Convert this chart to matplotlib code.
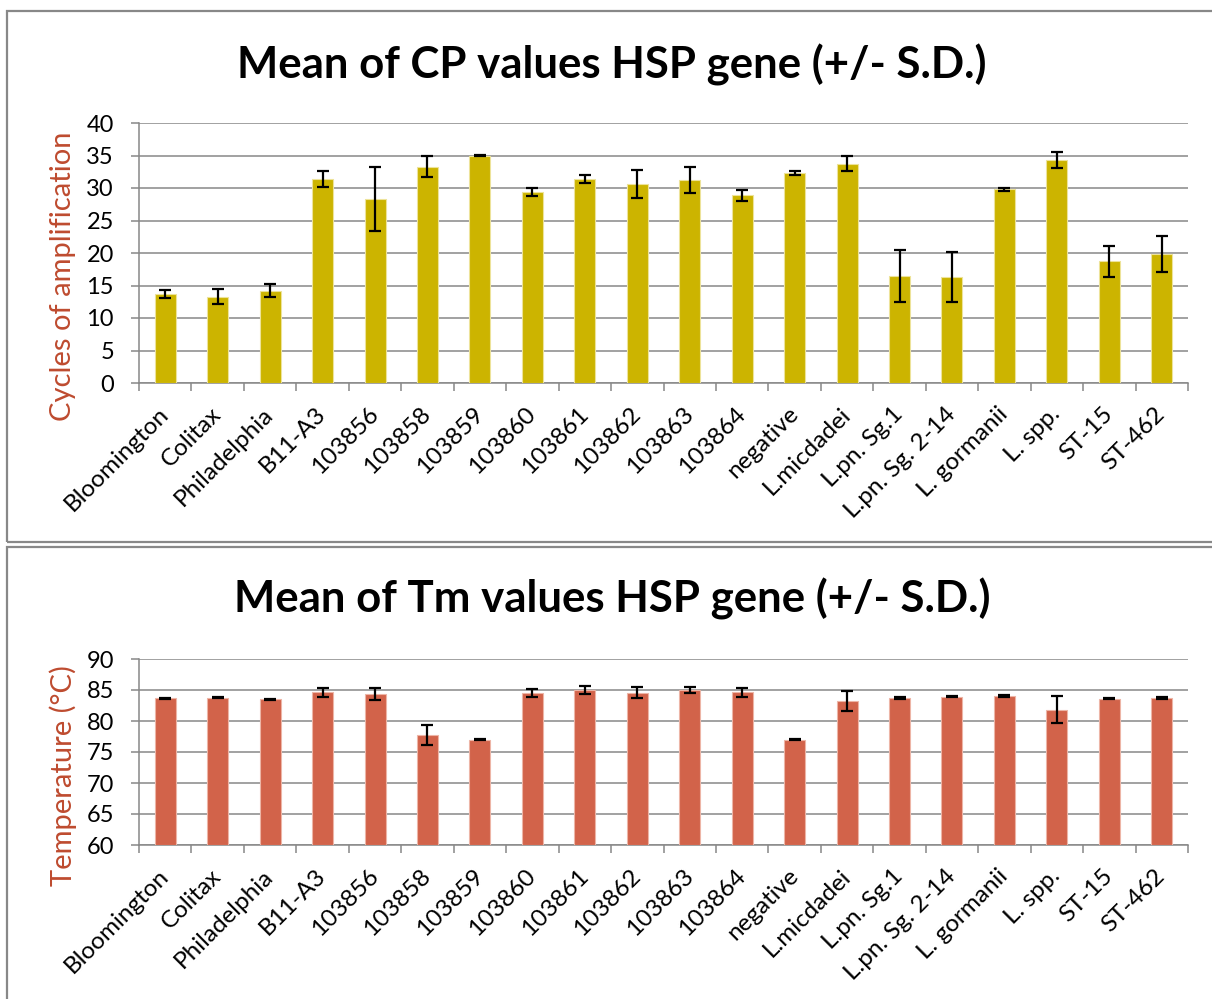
import matplotlib.pyplot as plt
from matplotlib.patches import Rectangle
import numpy as np

plt.rcParams['font.family'] = ['Lato', 'DejaVu Sans']

# strains on the x axis (same for both charts)
strains = ['Bloomington', 'Colitax', 'Philadelphia', 'B11-A3', '103856', '103858',
           '103859', '103860', '103861', '103862', '103863', '103864', 'negative',
           'L.micdadei', 'L.pn. Sg.1', 'L.pn. Sg. 2-14', 'L. gormanii', 'L. spp.',
           'ST-15', 'ST-462']

# crossing point values (cycles) and their S.D.
cp_mean = [13.7, 13.3, 14.2, 31.4, 28.3, 33.3, 35.0, 29.4, 31.4, 30.6,
           31.2, 28.9, 32.3, 33.7, 16.4, 16.3, 29.8, 34.3, 18.7, 19.9]
cp_sd = [0.65, 1.15, 1.0, 1.2, 4.9, 1.55, 0.05, 0.65, 0.65, 2.2,
         2.0, 0.85, 0.33, 1.15, 4.0, 3.9, 0.2, 1.25, 2.35, 2.75]

# melting temperature values and their S.D.
tm_mean = [83.7, 83.75, 83.5, 84.6, 84.4, 77.8, 77.0, 84.55, 85.0, 84.55,
           85.0, 84.65, 77.0, 83.25, 83.75, 83.9, 84.1, 81.8, 83.6, 83.7]
tm_sd = [0.08, 0.08, 0.08, 0.78, 0.95, 1.6, 0.05, 0.65, 0.57, 0.9,
         0.43, 0.75, 0.05, 1.6, 0.2, 0.08, 0.15, 2.2, 0.05, 0.12]

grid_col = '#888888'
lab_col = '#BE4B2F'

fig = plt.figure(figsize=(12.12, 9.99), dpi=100)

# panel frames
fig.patches.append(Rectangle((7 / 1212, 1 - 542 / 999), 1.0, 531 / 999, transform=fig.transFigure,
                             fill=False, edgecolor=grid_col, linewidth=1.6, figure=fig))
fig.patches.append(Rectangle((7 / 1212, -0.1), 1.0, 0.1 + 1 - 547 / 999, transform=fig.transFigure,
                             fill=False, edgecolor=grid_col, linewidth=1.6, figure=fig))


def bar_chart(ax, means, sds, colour, edge, ymin, ymax, step):
    x = np.arange(len(strains))
    ax.bar(x, np.array(means) - ymin, bottom=ymin, width=0.4, color=colour,
           edgecolor=edge, linewidth=0.8, zorder=3)
    ax.errorbar(x, means, yerr=sds, fmt='none', ecolor='black', elinewidth=1.6,
                capsize=4.5, capthick=1.6, zorder=4)
    ax.set_xlim(-0.5, len(strains) - 0.5)
    ax.set_ylim(ymin, ymax)
    ax.set_yticks(np.arange(ymin, ymax + 1, step))
    ax.yaxis.grid(True, color=grid_col, linewidth=1.1, zorder=0)
    ax.set_axisbelow(True)
    for s in ['top', 'right']:
        ax.spines[s].set_visible(False)
    for s in ['left', 'bottom']:
        ax.spines[s].set_color(grid_col)
        ax.spines[s].set_linewidth(1.1)
    ax.set_xticks(x)
    ax.set_xticklabels(strains, rotation=45, ha='right', va='center',
                       rotation_mode='anchor', fontsize=17.5)
    ax.set_xticks(np.arange(-0.5, len(strains)), minor=True)
    ax.tick_params(axis='x', which='major', length=0, pad=20)
    ax.tick_params(axis='x', which='minor', length=6, color=grid_col, width=1.1)
    ax.tick_params(axis='y', length=6, color=grid_col, width=1.1, labelsize=17, pad=12)


ax1 = fig.add_axes([139 / 1212, 1 - 383 / 999, 1049 / 1212, 260 / 999])
bar_chart(ax1, cp_mean, cp_sd, '#CCB400', '#EDE39A', 0, 40, 5)

ax2 = fig.add_axes([139 / 1212, 1 - 845 / 999, 1049 / 1212, 186 / 999])
bar_chart(ax2, tm_mean, tm_sd, '#D2634A', '#EDB5A6', 60, 90, 5)

fig.text(612 / 1212, 1 - 65 / 999, 'Mean of CP values HSP gene (+/- S.D.)',
         ha='center', va='center', fontsize=31.5, fontweight='bold')
fig.text(612 / 1212, 1 - 599 / 999, 'Mean of Tm values HSP gene (+/- S.D.)',
         ha='center', va='center', fontsize=31.5, fontweight='bold')

fig.text(63 / 1212, 1 - 276 / 999, 'Cycles of amplification', rotation=90,
         ha='center', va='center', fontsize=21, color=lab_col)
fig.text(63 / 1212, 1 - 776 / 999, 'Temperature (°C)', rotation=90,
         ha='center', va='center', fontsize=21, color=lab_col)

plt.savefig('out.png', dpi=100)
plt.close('all')
